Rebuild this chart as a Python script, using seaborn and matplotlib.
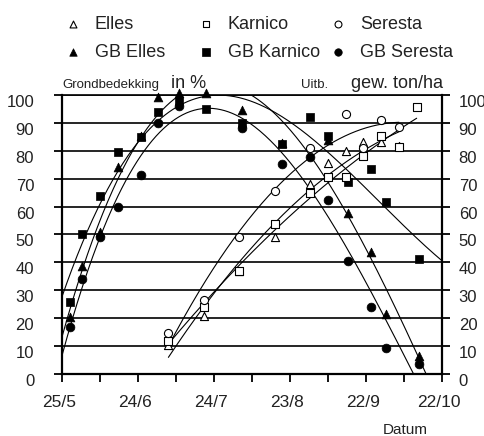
import numpy as np
import matplotlib
matplotlib.use("Agg")
import matplotlib.pyplot as plt
import seaborn as sns
from matplotlib.transforms import ScaledTranslation

sns.set_theme(style="white")
plt.rcParams["font.family"] = ["Liberation Sans", "DejaVu Sans"]

# ---- data (x = days since 25 May) ----
gb_days_elles = [3, 8, 15, 22, 31, 38, 46, 57, 71, 87, 105, 113, 122, 128, 141]
gb_elles = [20.4, 38.7, 51, 74.2, 85.3, 99.3, 100.7, 100.7, 94.6, 82.8, 84, 57.7, 43.7, 21.5, 6.5]
gb_days_karnico = [3, 8, 15, 22, 31, 38, 46, 57, 71, 87, 98, 105, 113, 122, 128, 141]
gb_karnico = [25.8, 50.2, 63.8, 79.6, 85, 94, 98, 95, 90, 82.4, 92.2, 85.3, 68.8, 73.5, 61.6, 41.2]
gb_days_seresta = [3, 8, 15, 22, 31, 38, 46, 71, 87, 98, 105, 113, 122, 128, 141]
gb_seresta = [16.8, 34, 49.1, 60, 71.3, 90, 96, 88.3, 75.3, 77.9, 62.4, 40.5, 24, 9.3, 3.6]

y_days_elles = [42, 56, 70, 84, 98, 105, 112, 119, 126, 133]
y_elles = [10.4, 20.8, 37, 49, 68, 75.6, 79.8, 83, 83, 81.7]
y_days_karnico = [42, 56, 70, 84, 98, 105, 112, 119, 126, 133, 140]
y_karnico = [11.8, 24, 37, 53.8, 65, 70.6, 70.6, 78, 85.3, 81.4, 95.7]
y_days_seresta = [42, 56, 70, 84, 98, 112, 119, 126, 133]
y_seresta = [14.7, 26.5, 49, 65.6, 81, 93.3, 81, 91, 88.5]

x_tick_days = [0, 30, 60, 90, 120, 150]
x_tick_labels = ["25/5", "24/6", "24/7", "23/8", "22/9", "22/10"]
y_ticks = list(range(0, 101, 10))

W, H = 485, 436
fig = plt.figure(figsize=(W / 100, H / 100), dpi=100)
ax = fig.add_axes([62 / W, 1 - 374 / H, (442 - 62) / W, (374 - 95) / H])

# trend lines
for days, vals, deg, full in [
    (gb_days_elles, gb_elles, 3, True),
    (gb_days_karnico, gb_karnico, 3, True),
    (gb_days_seresta, gb_seresta, 3, True),
    (y_days_elles, y_elles, 2, False),
    (y_days_karnico, y_karnico, 2, False),
    (y_days_seresta, y_seresta, 2, False),
]:
    lo, hi = (0, 150) if full else (min(days), max(days))
    xg = np.linspace(lo, hi, 300)
    yg = np.polyval(np.polyfit(days, vals, deg), xg)
    sns.lineplot(x=xg, y=yg, color="black", lw=0.8, ax=ax, sort=False,
                 estimator=None, zorder=2)

# points
open_kw = dict(color="white", edgecolor="black", linewidth=0.8, s=34, zorder=4, clip_on=False)
fill_kw = dict(color="black", edgecolor="black", linewidth=0.5, s=40, zorder=3, clip_on=False)
sns.scatterplot(x=y_days_elles, y=y_elles, marker="^", label="Elles", ax=ax, **open_kw)
sns.scatterplot(x=gb_days_elles, y=gb_elles, marker="^", label="GB Elles", ax=ax, **fill_kw)
sns.scatterplot(x=y_days_karnico, y=y_karnico, marker="s", label="Karnico", ax=ax, **open_kw)
sns.scatterplot(x=gb_days_karnico, y=gb_karnico, marker="s", label="GB Karnico", ax=ax, **fill_kw)
sns.scatterplot(x=y_days_seresta, y=y_seresta, marker="o", label="Seresta", ax=ax, **open_kw)
sns.scatterplot(x=gb_days_seresta, y=gb_seresta, marker="o", label="GB Seresta", ax=ax, **fill_kw)

handles, labels = ax.get_legend_handles_labels()
if ax.get_legend() is not None:
    ax.get_legend().remove()
# one legend column per variety, placed at the reference marker positions
col_marker_x = [64, 197, 329]
for k in range(3):
    lg = fig.legend(handles[2 * k:2 * k + 2], labels[2 * k:2 * k + 2], ncol=1,
                    loc="upper left", bbox_to_anchor=((col_marker_x[k] - 9) / W, 1 - 7 / H),
                    frameon=False, fontsize=13, handlelength=1.0, handletextpad=0.7,
                    labelspacing=0.62, borderpad=0, markerscale=0.85)
    for t in lg.get_texts():
        t.set_color("#222222")

# axes styling
ax.set_xlim(0, 150)
ax.set_ylim(0, 100)
ax.set_xticks(x_tick_days)
ax.set_xticklabels(x_tick_labels)
ax.set_xticks(list(range(15, 150, 30)), minor=True)
ax.set_yticks(y_ticks)
ax.set_yticklabels([str(v) for v in y_ticks])
ax.grid(False)
for v in y_ticks:
    ax.axhline(v, color="black", lw=1.2, zorder=1)
for side in ["left", "right", "bottom"]:
    ax.spines[side].set_visible(True)
    ax.spines[side].set_color("black")
    ax.spines[side].set_linewidth(1.6)
ax.spines["top"].set_visible(True)
ax.spines["top"].set_color("black")
ax.spines["top"].set_linewidth(1.2)
ax.tick_params(axis="x", which="both", bottom=True, direction="out", length=6,
               width=1.3, color="black", labelsize=12.5, pad=9, labelcolor="#222222")
ax.tick_params(axis="y", left=True, direction="out", length=6, width=1.3,
               color="black", labelsize=12, pad=14, labelcolor="#222222")
ax.set_xlabel("")
ax.set_ylabel("")

ax2 = ax.twinx()
ax2.set_ylim(0, 100)
ax2.set_yticks(y_ticks)
ax2.set_yticklabels([str(v) for v in y_ticks])
ax2.grid(False)
for s in ax2.spines.values():
    s.set_visible(False)
ax2.tick_params(axis="y", right=True, direction="out", length=6, width=1.3,
                color="black", labelsize=12, pad=6, labelcolor="#222222")

dy = ScaledTranslation(0, -6 / 100, fig.dpi_scale_trans)
for lab in ax.get_yticklabels() + ax2.get_yticklabels():
    lab.set_transform(lab.get_transform() + dy)
dx = ScaledTranslation(-3 / 100, 0, fig.dpi_scale_trans)
for lab in ax.get_xticklabels():
    lab.set_transform(lab.get_transform() + dx)

# titles
fig.text(62 / W, 1 - 88 / H, "Grondbedekking", fontsize=9.5, ha="left",
         va="baseline", color="#222222")
fig.text(171 / W, 1 - 88 / H, "in %", fontsize=13, ha="left", va="baseline",
         color="#222222")
fig.text(301 / W, 1 - 88 / H, "Uitb.", fontsize=9.5, ha="left", va="baseline",
         color="#222222")
fig.text(443 / W, 1 - 88 / H, "gew. ton/ha", fontsize=13, ha="right",
         va="baseline", color="#222222")
fig.text(405 / W, 1 - 430 / H, "Datum", fontsize=11, ha="center", va="center",
         color="#222222")

fig.savefig("out.png", dpi=100)
